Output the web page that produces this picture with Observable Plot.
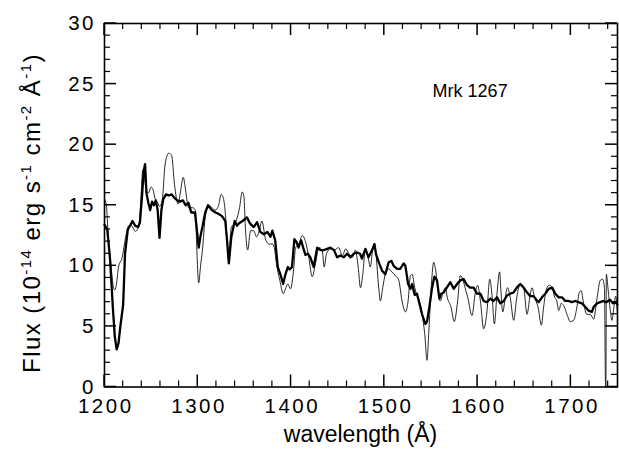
<!DOCTYPE html>
<html><head><meta charset="utf-8">
<script src="https://cdn.jsdelivr.net/npm/d3@7"></script>
<script src="https://cdn.jsdelivr.net/npm/@observablehq/plot@0.6"></script>
<style>
body{margin:0;background:#fff;}
g[aria-label="y-axis tick label"], g[aria-label="x-axis tick label"]{letter-spacing:2.5px;}
</style>
</head><body><div id="chart"></div>
<script>
// [wavelength (Å), flux] — thick line
const thickSpectrum = [[1200,13.4],[1203,13.0],[1206,10.5],[1209,6.5],[1211,4.2],[1213,3.1],[1215,3.6],[1217,5.0],[1220,6.8],[1222,11.0],[1225,13.0],[1228,13.4],[1230,13.7],[1233,13.3],[1236,13.2],[1238,13.6],[1240,15.5],[1242,17.8],[1243.5,18.4],[1245,16.0],[1247,15.2],[1249,14.6],[1251,15.3],[1253,15.0],[1255,15.4],[1257,14.6],[1259,12.3],[1261,14.6],[1263,15.5],[1266,15.9],[1269,15.8],[1272,15.9],[1275,15.6],[1278,15.4],[1281,15.3],[1284,15.4],[1287,15.0],[1290,15.2],[1293,14.4],[1297,14.4],[1299,13.0],[1301,11.5],[1303,12.5],[1305,13.2],[1308,14.4],[1311,15.0],[1315,14.6],[1319,14.4],[1322,14.3],[1326,14.1],[1329.5,13.7],[1331.5,12.0],[1333.3,10.2],[1336,12.4],[1339.6,13.7],[1342,13.3],[1344,13.5],[1348,13.7],[1352.7,14.0],[1356,13.5],[1360,13.2],[1363.6,13.6],[1367,12.8],[1371,12.6],[1374.6,12.8],[1378,12.4],[1380,12.9],[1383,12.1],[1385.8,9.9],[1388.6,9.3],[1391.5,8.5],[1394,9.3],[1396.5,9.9],[1398.6,9.7],[1401,9.9],[1403.6,12.2],[1405.7,12.0],[1408,11.5],[1410.8,12.1],[1413,11.5],[1415.4,10.9],[1418,11.0],[1420.7,10.7],[1424.3,9.9],[1428,11.5],[1431.5,11.3],[1435,11.3],[1438.7,11.4],[1442.3,11.5],[1446,11.3],[1449.4,10.7],[1453,10.85],[1456.5,10.7],[1460,11.0],[1463.7,10.7],[1467.2,11.0],[1470.7,11.1],[1474,11.0],[1476,10.6],[1479.7,11.4],[1483,10.7],[1486.9,11.3],[1489.4,11.8],[1491,11.0],[1494,10.3],[1497.6,9.6],[1501,9.3],[1504.7,10.3],[1507.6,10.4],[1510,10.0],[1513.7,9.75],[1517,9.75],[1520.8,10.2],[1522.6,10.0],[1525.5,8.5],[1528,8.1],[1529.8,8.5],[1532.6,7.6],[1535,7.7],[1537.6,6.9],[1540.5,6.0],[1544,5.2],[1545.8,5.4],[1548.3,6.6],[1551.2,8.2],[1553.7,9.1],[1556.5,8.8],[1559,7.3],[1561,7.7],[1563.7,7.8],[1567,8.2],[1570.8,8.65],[1574.4,8.1],[1578,8.5],[1581.5,8.8],[1585,8.9],[1588.7,8.4],[1592,8.2],[1595.8,8.2],[1599.4,7.7],[1603,7.7],[1606.5,7.1],[1610,7.0],[1613.7,7.3],[1617,7.1],[1620.8,7.4],[1624.4,6.9],[1628,7.1],[1631.5,7.55],[1635,7.7],[1638.7,7.8],[1642,8.2],[1645.8,8.5],[1649.4,8.2],[1653,7.8],[1656.5,7.5],[1660,7.5],[1663,7.2],[1665.5,7.0],[1669,7.4],[1672.6,7.7],[1676.2,8.1],[1680,8.2],[1683.3,7.7],[1687,7.4],[1690.5,7.4],[1694,7.1],[1697.6,7.1],[1701,7.0],[1704.8,7.1],[1708,7.0],[1711.9,6.9],[1715.5,6.6],[1719,6.3],[1722.6,6.2],[1724.4,6.6],[1728,6.9],[1731.5,7.0],[1735,7.1],[1738,7.0],[1742,7.2],[1745,6.9],[1748,7.0],[1750,6.8]];

// [wavelength (Å), flux] — thin line
const thinSpectrum = [[1200,15.5],[1202,15.0],[1204,12.5],[1207,10.0],[1209,8.5],[1211,8.0],[1213,8.6],[1215,9.9],[1219,10.7],[1222.5,12.3],[1226,13.3],[1229,13.3],[1233,12.85],[1237,13.3],[1239,15.5],[1241,17.9],[1242.5,17.6],[1244.5,16.3],[1247,16.0],[1250,16.5],[1252,16.3],[1254,15.6],[1257,15.2],[1259,14.9],[1262,15.5],[1265,18.4],[1269,19.3],[1272,19.1],[1275,16.75],[1279,15.1],[1281,15.9],[1284.5,17.3],[1287,16.2],[1290,14.8],[1294,14.8],[1297.5,14.6],[1299,11.3],[1301,8.6],[1303,10.0],[1305,11.3],[1308,14.0],[1311.7,15.0],[1315,14.8],[1318.8,14.6],[1322.4,15.0],[1325,15.9],[1327,15.7],[1329,14.8],[1331.5,12.1],[1333,10.7],[1336,13.2],[1340,13.5],[1344.8,14.8],[1347.6,16.1],[1349.5,15.7],[1351,13.2],[1353.5,11.3],[1356.6,12.9],[1360,12.9],[1362.9,12.4],[1366,12.9],[1368.7,13.7],[1373,12.1],[1376.6,11.8],[1380,11.8],[1382,11.5],[1384.3,10.2],[1388,8.8],[1391.5,7.7],[1394,8.1],[1396.5,8.5],[1399.4,8.1],[1403,9.9],[1404.8,11.5],[1408.3,11.8],[1412,12.5],[1415.5,12.0],[1419,10.7],[1422.7,9.1],[1426.2,10.2],[1429.8,11.5],[1433.4,11.3],[1435.5,9.9],[1438,11.0],[1442,11.4],[1446,11.3],[1451,11.5],[1455,10.85],[1458.6,11.4],[1462,11.0],[1465.7,10.7],[1469,11.3],[1472,9.9],[1474.4,8.2],[1476.9,9.3],[1479.7,11.4],[1482.6,10.7],[1485,9.9],[1487.6,11.4],[1489.4,11.8],[1491,11.0],[1494,8.2],[1495.8,7.1],[1498.3,8.2],[1501,9.3],[1504.7,9.75],[1508,9.5],[1511.9,9.2],[1515.5,8.8],[1519,7.1],[1522.6,6.2],[1525.5,7.1],[1528,9.2],[1529.8,9.3],[1532.6,8.2],[1535,7.55],[1537.6,7.1],[1540.5,6.0],[1543.3,4.4],[1545.8,2.2],[1547.6,4.4],[1550.5,8.5],[1553,10.3],[1554.8,9.75],[1557.6,8.0],[1560,7.1],[1562.6,7.7],[1565.5,8.2],[1567.5,7.4],[1571.5,6.6],[1575,5.4],[1578.6,7.1],[1581.5,9.2],[1584.4,8.8],[1586.9,8.1],[1589.4,7.4],[1594,5.9],[1597.6,7.8],[1600,8.4],[1603,7.1],[1606.5,4.8],[1610,6.2],[1613,8.9],[1615.5,7.55],[1618,5.2],[1620.8,7.7],[1623.6,9.5],[1625,7.95],[1627,6.2],[1629.7,7.4],[1632,8.2],[1635,7.4],[1638.7,5.5],[1642,7.4],[1645.8,8.5],[1649.4,8.2],[1653,6.0],[1656,7.4],[1658.4,8.2],[1661,7.4],[1664.8,6.6],[1668.4,5.1],[1670.8,6.6],[1673.3,7.95],[1676.9,8.4],[1680,8.2],[1682.6,7.4],[1685,7.1],[1687,6.3],[1689.7,6.9],[1693,6.6],[1695.8,6.0],[1699.4,5.4],[1703,5.5],[1706.5,6.6],[1709,7.8],[1711,7.95],[1713.7,6.9],[1717,6.0],[1720.8,6.0],[1724.4,5.6],[1728,7.3],[1731.5,8.8],[1734,8.9],[1736,8.2],[1737.2,0],[1737.6,0],[1738,9.3],[1740,8.0],[1742,6.5],[1744,5.5],[1746,6.5],[1748,7.5],[1750,6.0]];

const xMajorTicks = [1200, 1300, 1400, 1500, 1600, 1700];
const xMinorTicks = [1200,1220,1240,1260,1280,1300,1320,1340,1360,1380,1400,1420,1440,1460,1480,1500,1520,1540,1560,1580,1600,1620,1640,1660,1680,1700,1720,1740];
const yMajorTicks = [0, 5, 10, 15, 20, 25, 30];
const yMinorTicks = [0,1,2,3,4,5,6,7,8,9,10,11,12,13,14,15,16,17,18,19,20,21,22,23,24,25,26,27,28,29,30];
const objectLabel = [{text: "Mrk 1267", x: 1592, y: 24.4}];
const xTitle = "wavelength (Å)";
const yTitleParts = [["Flux (10", false], ["-14", true], [" erg s", false], ["-1", true], [" cm", false], ["-2", true], [" Å", false], ["-1", true], [")", false]];

const toRows = s => s.map(([w, f]) => ({w, f}));

const chartW = 619, chartH = 449, mL = 104, mR = 2, mT = 23, mB = 62.5;
const MINOR_LEN = 6, MAJOR_LEN = 12;

const plot = Plot.plot({
  width: chartW,
  height: chartH,
  marginLeft: mL,
  marginRight: mR,
  marginTop: mT,
  marginBottom: mB,
  x: {domain: [1200, 1750], label: null},
  y: {domain: [0, 30], label: null},
  style: {fontFamily: "'Liberation Sans', Arial, sans-serif", fontSize: "20px", background: "white"},
  marks: [
    Plot.line(toRows(thinSpectrum), {x: "w", y: "f", stroke: "#111", strokeWidth: 0.9, curve: "monotone-x"}),
    Plot.line(toRows(thickSpectrum), {x: "w", y: "f", stroke: "#000", strokeWidth: 2.3}),
    Plot.frame({stroke: "black", strokeWidth: 1.6}),
    Plot.axisY(yMajorTicks, {anchor: "left", tickSize: 0, tickPadding: 8.5, label: null, fontSize: 20.5, tickFormat: d => String(d)}),
    Plot.axisX(xMajorTicks, {anchor: "bottom", tickSize: 0, tickPadding: 11, label: null, fontSize: 20.5, dx: 1.25, tickFormat: d => String(d)}),
    Plot.text(objectLabel, {x: "x", y: "y", text: "text", fontSize: 18, fill: "black"})
  ]
});

document.getElementById("chart").appendChild(plot);

const svgSel = d3.select(plot);

// inward tick marks on all four sides, placed with Plot's own scales
const scaleX = plot.scale("x"), scaleY = plot.scale("y");
const frameLeft = mL, frameRight = chartW - mR, frameTop = mT, frameBottom = chartH - mB;
const tickGroup = svgSel.append("g").attr("stroke", "black").attr("fill", "none");
yMinorTicks.forEach(v => {
  const isMajor = yMajorTicks.includes(v), tl = isMajor ? MAJOR_LEN : MINOR_LEN, py = scaleY.apply(v);
  const sw = isMajor ? 1.5 : 1.2;
  tickGroup.append("line").attr("x1", frameLeft).attr("x2", frameLeft + tl).attr("y1", py).attr("y2", py).attr("stroke-width", sw);
  tickGroup.append("line").attr("x1", frameRight).attr("x2", frameRight - tl).attr("y1", py).attr("y2", py).attr("stroke-width", sw);
});
xMinorTicks.forEach(v => {
  const isMajor = xMajorTicks.includes(v), tl = isMajor ? MAJOR_LEN : MINOR_LEN, px = scaleX.apply(v);
  const sw = isMajor ? 1.5 : 1.2;
  tickGroup.append("line").attr("x1", px).attr("x2", px).attr("y1", frameBottom).attr("y2", frameBottom - tl).attr("stroke-width", sw);
  tickGroup.append("line").attr("x1", px).attr("x2", px).attr("y1", frameTop).attr("y2", frameTop + tl).attr("stroke-width", sw);
});

// x-axis title
svgSel.append("text")
  .attr("x", 360.5).attr("y", 442)
  .attr("text-anchor", "middle")
  .attr("font-size", 23)
  .attr("fill", "black")
  .text(xTitle);

// y-axis title with superscripts
const yTitle = svgSel.append("text")
  .attr("transform", "translate(40,213) rotate(-90)")
  .attr("text-anchor", "middle")
  .attr("font-size", 24)
  .attr("fill", "black");
let raised = false;
yTitleParts.forEach(([s, sup]) => {
  const t = yTitle.append("tspan").text(s);
  if (sup && !raised) { t.attr("dy", -9).attr("font-size", 15); raised = true; }
  else if (sup) { t.attr("font-size", 15); }
  else if (raised) { t.attr("dy", 9); raised = false; }
});
const titleLen = yTitle.node().getComputedTextLength();
const titleChars = yTitleParts.map(p => p[0]).join("").length;
yTitle.attr("letter-spacing", ((320 - titleLen) / titleChars).toFixed(2) + "px");
</script>
</body></html>
